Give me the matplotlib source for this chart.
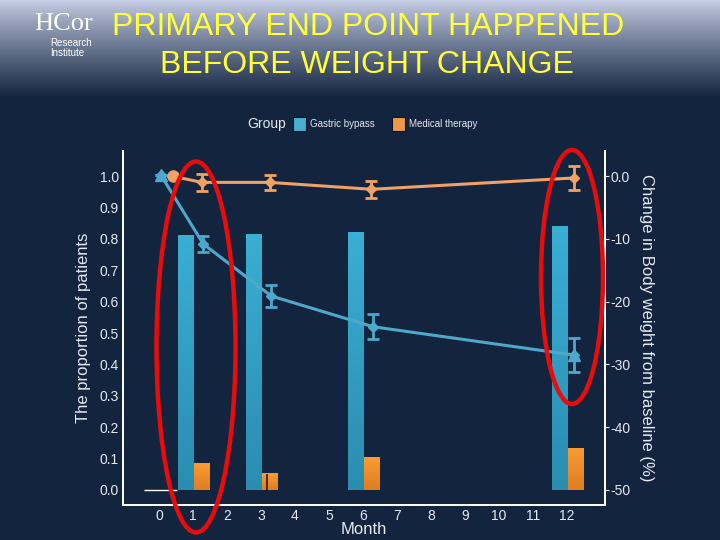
import numpy as np
import matplotlib
matplotlib.use("Agg")
import matplotlib.pyplot as plt
from matplotlib.patches import Ellipse, Rectangle
from matplotlib.colors import LinearSegmentedColormap

plt.rcParams["font.family"] = ["Liberation Sans", "DejaVu Sans"]

# proportion of patients reaching primary end point (bars, left axis)
months = [1, 3, 6, 12]
bypass_prop = [0.81, 0.815, 0.82, 0.84]
medical_prop = [0.086, 0.051, 0.102, 0.131]

# body weight change (lines, right axis)
bypass_x = [0.05, 1.3, 3.3, 6.3, 12.2]
bypass_wt = [0.2, -10.8, -19.1, -24.0, -28.5]
bypass_err = [0.0, 1.3, 1.75, 2.0, 2.7]
medical_x = [0.4, 1.25, 3.25, 6.25, 12.2]
medical_wt = [0.0, -1.0, -1.0, -2.1, -0.3]
medical_err = [0.0, 1.3, 1.2, 1.35, 1.9]

left_ticks = np.round(np.arange(0, 1.01, 0.1), 1)
right_ticks = [0, -10, -20, -30, -40, -50]
right_labels = ["0.0", "-10", "-20", "-30", "-40", "-50"]

BG = "#13243f"
BLUE = "#3aaed3"
BLUE_DK = "#2a8db0"
ORANGE = "#f89c32"
ORANGE_DK = "#df7d22"
BLUE_LINE = "#4ea8cc"
ORANGE_LINE = "#f0a266"
TXT = "#e6e9ef"

fig = plt.figure(figsize=(7.2, 5.4), dpi=100)

# slide background gradient
bg_ax = fig.add_axes([0, 0, 1, 1], zorder=-10)
grad = np.linspace(0, 1, 540)
top = np.array([0.78, 0.81, 0.90])
bot = np.array([0x13, 0x24, 0x3f]) / 255
t = np.clip(grad / 0.18, 0, 1) ** 0.9
img = (top[None, :] * (1 - t[:, None]) + bot[None, :] * t[:, None])[:, None, :]
bg_ax.imshow(img, aspect="auto", extent=[0, 1, 0, 1], origin="upper")
bg_ax.set_axis_off()

# logo
fig.text(0.047, 0.955, "HCor", color="white", fontsize=19, family="Liberation Serif",
         va="center", ha="left")
fig.text(0.070, 0.911, "Research\nInstitute", color="white", fontsize=7,
         va="center", ha="left", linespacing=1.0)

# title
fig.text(0.511, 0.950, "PRIMARY END POINT HAPPENED", color="#ffff3a", fontsize=23,
         ha="center", va="center")
fig.text(0.510, 0.880, "BEFORE WEIGHT CHANGE", color="#ffff3a", fontsize=23,
         ha="center", va="center")

# legend
fig.text(0.343, 0.770, "Group", color=TXT, fontsize=10, va="center")
fig.patches.append(Rectangle((293 / 720, 1 - 131 / 540), 13 / 720, 14 / 540,
                             transform=fig.transFigure, facecolor="#46aed0",
                             edgecolor="#0a1526", lw=0.8))
fig.text(310 / 720, 0.770, "Gastric bypass", color=TXT, fontsize=7, va="center")
fig.patches.append(Rectangle((392 / 720, 1 - 131 / 540), 13 / 720, 14 / 540,
                             transform=fig.transFigure, facecolor="#f0984a",
                             edgecolor="#0a1526", lw=0.8))
fig.text(409 / 720, 0.770, "Medical therapy", color=TXT, fontsize=7, va="center")

ax = fig.add_axes([123 / 720, 35 / 540, 482 / 720, 354 / 540])
ax.set_facecolor(BG)

width = 0.47
xlim = (-1.06, 13.12)
ylim = (-0.048, 1.08)

blue_cmap = LinearSegmentedColormap.from_list("b", [BLUE_DK, BLUE])
orange_cmap = LinearSegmentedColormap.from_list("o", [ORANGE_DK, ORANGE])
g = np.linspace(0, 1, 64)[:, None]
for m, bp, mp in zip(months, bypass_prop, medical_prop):
    bx = m - 0.2
    ox = m + 0.27
    ax.imshow(g, cmap=blue_cmap, origin="lower", aspect="auto",
              extent=[bx - width / 2, bx + width / 2, 0, bp], zorder=2)
    ax.imshow(g, cmap=orange_cmap, origin="lower", aspect="auto",
              extent=[ox - width / 2, ox + width / 2, 0, mp], zorder=2)
ax.vlines(3.18, 0, medical_prop[1], color="#2a1a10", lw=1.2, zorder=3)
ax.hlines(0, -0.44, 0.53, color="white", lw=1, zorder=3)

ax.set_xlim(*xlim)
ax.set_ylim(*ylim)
ax.set_xticks(range(0, 13))
ax.set_yticks(left_ticks)
ax.set_yticklabels([f"{v:.1f}" for v in left_ticks])
ax.tick_params(axis="both", colors=TXT, labelsize=10, length=0)
ax.tick_params(axis="y", pad=3)
ax.tick_params(axis="x", pad=3)
for s in ["left", "bottom", "right"]:
    ax.spines[s].set_color("white")
    ax.spines[s].set_linewidth(1.3)
ax.spines["top"].set_visible(False)
ax.set_ylabel("The proportion of patients", color=TXT, fontsize=12, labelpad=6)
ax.set_xlabel("Month", color=TXT, fontsize=12, labelpad=-1)

ax2 = ax.twinx()
ax2.set_ylim((ylim[0] - 1) * 50, (ylim[1] - 1) * 50)
ax2.errorbar(medical_x, medical_wt, yerr=medical_err, color=ORANGE_LINE, lw=2.2,
             marker="D", ms=5, capsize=4, capthick=2, elinewidth=2, zorder=4)
ax2.plot(medical_x[0], medical_wt[0], "o", color=ORANGE_LINE, ms=8, zorder=5)
ax2.errorbar(bypass_x, bypass_wt, yerr=bypass_err, color=BLUE_LINE, lw=2.2,
             marker="D", ms=5, capsize=4, capthick=2, elinewidth=2, zorder=4)
ax2.plot([bypass_x[0], bypass_x[-1]], [bypass_wt[0], bypass_wt[-1]], "^",
         color=BLUE_LINE, ms=8, zorder=5)
ax2.set_yticks(right_ticks)
ax2.set_yticklabels(right_labels)
ax2.tick_params(axis="y", colors=TXT, labelsize=10, length=3, pad=1)
for s in ["left", "bottom", "right"]:
    ax2.spines[s].set_color("white")
    ax2.spines[s].set_linewidth(1.3)
ax2.spines["top"].set_visible(False)
ax2.set_ylabel("Change in Body weight from baseline (%)", color=TXT, fontsize=12,
               rotation=270, labelpad=17)

# red highlight ellipses
fig.patches.append(Ellipse((196 / 720, 1 - 347 / 540), 79 / 720, 371 / 540,
                           transform=fig.transFigure, fill=False,
                           edgecolor="#e80c0c", lw=3.2, zorder=10))
fig.patches.append(Ellipse((572 / 720, 1 - 277 / 540), 62 / 720, 254 / 540,
                           transform=fig.transFigure, fill=False,
                           edgecolor="#e80c0c", lw=3.2, zorder=10))

fig.savefig("out.png", dpi=100, facecolor=BG)
